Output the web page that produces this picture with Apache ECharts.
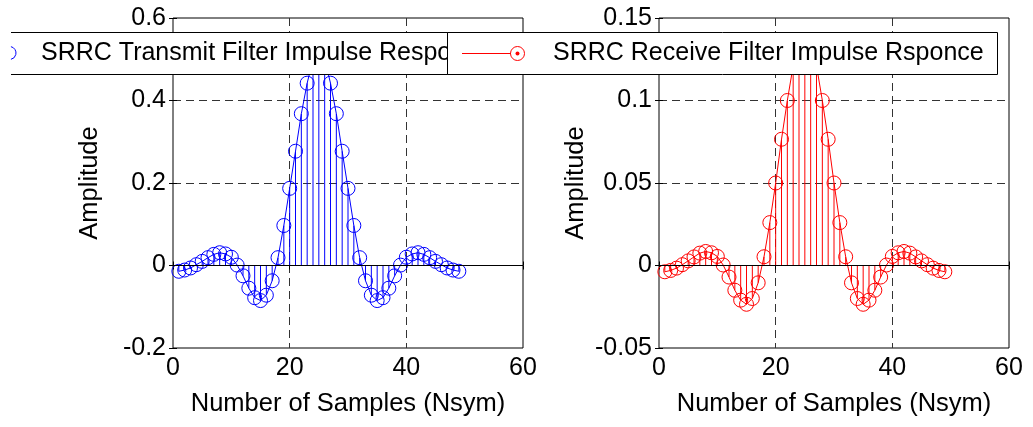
<!DOCTYPE html>
<html><head><meta charset="utf-8">
<script src="https://cdn.jsdelivr.net/npm/echarts@6/dist/echarts.min.js"></script>
<style>html,body{margin:0;padding:0;background:#fff}#c{width:1033px;height:427px}</style>
</head><body><div id="c"></div>
<script>
// sample index (x positions)
var sampleIdx = [1,2,3,4,5,6,7,8,9,10,11,12,13,14,15,16,17,18,19,20,21,22,23,24,25,26,27,28,29,30,31,32,33,34,35,36,37,38,39,40,41,42,43,44,45,46,47,48,49];
// SRRC transmit filter impulse response
var txImpulse = [-0.014,-0.011,-0.006,0.002,0.010,0.019,0.027,0.031,0.028,0.020,0.001,-0.025,-0.055,-0.078,-0.085,-0.072,-0.037,0.019,0.097,0.187,0.277,0.368,0.442,0.500,0.530,0.500,0.442,0.368,0.277,0.187,0.097,0.019,-0.037,-0.072,-0.085,-0.078,-0.055,-0.025,0.001,0.020,0.028,0.031,0.027,0.019,0.010,0.002,-0.006,-0.011,-0.014];
// SRRC receive filter impulse response
var rxImpulse = [-0.0038,-0.0030,-0.0016,0.0005,0.0028,0.0052,0.0075,0.0085,0.0077,0.0055,0.0003,-0.0070,-0.0150,-0.0210,-0.0235,-0.0200,-0.0105,0.0053,0.0260,0.0500,0.0765,0.1000,0.1210,0.1300,0.1340,0.1300,0.1210,0.1000,0.0765,0.0500,0.0260,0.0053,-0.0105,-0.0200,-0.0235,-0.0210,-0.0150,-0.0070,0.0003,0.0055,0.0077,0.0085,0.0075,0.0052,0.0028,0.0005,-0.0016,-0.0030,-0.0038];
var xTicks = [0,20,40,60];
var yTicksLeft = [-0.2,0,0.2,0.4,0.6];
var yTicksRight = [-0.05,0,0.05,0.1,0.15];
var legendTx = 'SRRC Transmit Filter Impulse Response';
var legendRx = 'SRRC Receive Filter Impulse Rsponce';
var xName = 'Number of Samples (Nsym)';
var yName = 'Amplitude';

var FONT = 'Liberation Sans, Arial, sans-serif';
var FS = 25;
function pairs(ys){ return sampleIdx.map(function(x,i){ return [x, ys[i]]; }); }
function fmt(v){ return String(parseFloat(v.toFixed(3))); }

function xAxes(g){
  var ticks = xTicks;
  return [{
    gridIndex:g, type:'value', min:ticks[0], max:ticks[ticks.length-1], interval:ticks[1]-ticks[0], position:'bottom',
    axisLine:{show:false}, axisTick:{show:true, inside:true, length:4, lineStyle:{color:'#000'}},
    axisLabel:{color:'#000', fontFamily:FONT, fontSize:FS, margin:8, formatter:fmt},
    splitLine:{show:true, showMinLine:false, showMaxLine:false, lineStyle:{type:[8,5], color:'#333', width:1}},
    name:xName, nameLocation:'middle', nameGap:43, nameTextStyle:{color:'#000', fontFamily:FONT, fontSize:25.5}
  },{
    gridIndex:g, type:'value', min:ticks[0], max:ticks[ticks.length-1], interval:ticks[1]-ticks[0], position:'top',
    axisLine:{show:false}, axisTick:{show:true, inside:true, length:4, lineStyle:{color:'#000'}},
    axisLabel:{show:false}, splitLine:{show:false}
  }];
}
function yAxes(g, ticks){
  return [{
    gridIndex:g, type:'value', min:ticks[0], max:ticks[ticks.length-1], interval:ticks[1]-ticks[0], position:'left',
    axisLine:{show:false}, axisTick:{show:true, inside:true, length:4, lineStyle:{color:'#000'}},
    axisLabel:{color:'#000', fontFamily:FONT, fontSize:FS, margin:7, formatter:fmt},
    splitLine:{show:true, showMinLine:false, showMaxLine:false, lineStyle:{type:[8,5], color:'#333', width:1}},
    name:yName, nameLocation:'middle', nameGap:70, nameTextStyle:{color:'#000', fontFamily:FONT, fontSize:25.5}
  },{
    gridIndex:g, type:'value', min:ticks[0], max:ticks[ticks.length-1], interval:ticks[1]-ticks[0], position:'right',
    axisLine:{show:false}, axisTick:{show:true, inside:true, length:4, lineStyle:{color:'#000'}},
    axisLabel:{show:false}, splitLine:{show:false}
  }];
}
function stemSeries(ax, ys, color){
  return [{
    type:'bar', xAxisIndex:ax.x, yAxisIndex:ax.y, data:pairs(ys), barWidth:1,
    itemStyle:{color:color}, silent:true, z:3
  },{
    type:'line', xAxisIndex:ax.x, yAxisIndex:ax.y, data:pairs(ys), clip:false,
    symbol:'circle', symbolSize:14, showAllSymbol:true,
    lineStyle:{color:color, width:1}, itemStyle:{color:'rgba(0,0,0,0)', borderColor:color, borderWidth:1},
    silent:true, z:4,
    markLine:{silent:true, symbol:'none', label:{show:false}, lineStyle:{color:'#000', type:'solid', width:1},
      data:[{yAxis:0}], animation:false}
  }];
}

var chart = echarts.init(document.getElementById('c'));
var option = {
  animation:false,
  grid:[
    {left:173, top:18, width:350, height:330, show:true, borderColor:'#000', borderWidth:1, backgroundColor:'#fff'},
    {left:659, top:18, width:350, height:330, show:true, borderColor:'#000', borderWidth:1, backgroundColor:'#fff'}
  ],
  xAxis: xAxes(0).concat(xAxes(1)),
  yAxis: yAxes(0, yTicksLeft).concat(yAxes(1, yTicksRight)),
  series: stemSeries({x:0,y:0}, txImpulse, '#0000ff').concat(stemSeries({x:2,y:2}, rxImpulse, '#ff0000')),
  graphic:[
    // left legend (partly off-canvas, covered by right legend)
    {type:'rect', z:100, shape:{x:11, y:32, width:440, height:42}, style:{fill:'#fff'}},
    {type:'line', z:101, shape:{x1:11, y1:32.5, x2:450, y2:32.5}, style:{stroke:'#000', lineWidth:1}},
    {type:'line', z:101, shape:{x1:11, y1:74.5, x2:450, y2:74.5}, style:{stroke:'#000', lineWidth:1}},
    {type:'arc', z:101, shape:{cx:9.5, cy:53, r:6.5, startAngle:-1.35, endAngle:1.35}, style:{stroke:'#0000ff', fill:null, lineWidth:1}},
    {type:'text', z:101, style:{x:41, y:53, text:legendTx, fill:'#000', font:FS+'px '+FONT, verticalAlign:'middle', align:'left'}},
    // right legend
    {type:'rect', z:110, shape:{x:447.5, y:32.5, width:550, height:42}, style:{fill:'#fff', stroke:'#000', lineWidth:1}},
    {type:'line', z:111, shape:{x1:462, y1:53.5, x2:511, y2:53.5}, style:{stroke:'#ff0000', lineWidth:1}},
    {type:'circle', z:111, shape:{cx:517.5, cy:53.5, r:7}, style:{stroke:'#ff0000', fill:null, lineWidth:1}},
    {type:'circle', z:111, shape:{cx:517.5, cy:53.5, r:2}, style:{fill:'#ff0000'}},
    {type:'text', z:111, style:{x:553, y:53.5, text:legendRx, fill:'#000', font:FS+'px '+FONT, verticalAlign:'middle', align:'left'}}
  ]
};
chart.setOption(option);
</script>
</body></html>
